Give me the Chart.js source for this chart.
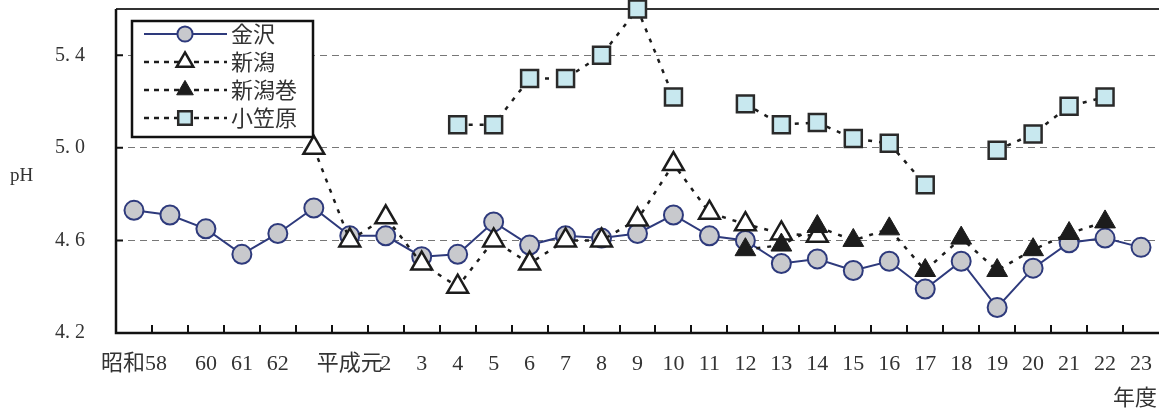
<!DOCTYPE html>
<html>
<head>
<meta charset="utf-8">
<script src="https://cdn.jsdelivr.net/npm/chart.js@4.4.0/dist/chart.umd.min.js"></script>
<style>
  html, body { margin: 0; padding: 0; background: #fff; }
</style>
</head>
<body>
<canvas id="ph" width="1159" height="412"></canvas>
<script>
// ----------- data -----------
const years = ['昭和58', '', '60', '61', '62', '', '平成元', '2', '3', '4', '5', '6', '7', '8', '9',
  '10', '11', '12', '13', '14', '15', '16', '17', '18', '19', '20', '21', '22', '23'];

const kanazawa = [4.73, 4.71, 4.65, 4.54, 4.63, 4.74, 4.62, 4.62, 4.53, 4.54, 4.68, 4.58, 4.62, 4.61, 4.63,
  4.71, 4.62, 4.60, 4.50, 4.52, 4.47, 4.51, 4.39, 4.51, 4.31, 4.48, 4.59, 4.61, 4.57];

const niigata = [null, null, null, null, null, 5.00, 4.60, 4.70, 4.50, 4.40, 4.60, 4.50, 4.60, 4.60, 4.69,
  4.93, 4.72, 4.67, 4.63, 4.62, null, null, null, null, null, null, null, null, null];

const niigataMaki = [null, null, null, null, null, null, null, null, null, null, null, null, null, null, null,
  null, null, 4.56, 4.58, 4.66, 4.60, 4.65, 4.47, 4.61, 4.47, 4.56, 4.63, 4.68, null];

const ogasawara = [null, null, null, null, null, null, null, null, null, 5.10, 5.10, 5.30, 5.30, 5.40, 5.60,
  5.22, null, 5.19, 5.10, 5.11, 5.04, 5.02, 4.84, null, 4.99, 5.06, 5.18, 5.22, null];

const yTicks = [4.2, 4.6, 5.0, 5.4];

// ----------- styles -----------
const navy = '#2e3a7c';
const ink = '#1c1c1c';
const textColor = '#333';
const serif = '"Liberation Serif", "Noto Sans CJK JP", serif';
const cjk = '"Noto Sans CJK JP", "Liberation Serif", sans-serif';

const datasets = [
  {
    label: '金沢', data: kanazawa, order: 4,
    borderColor: navy, borderWidth: 2,
    pointStyle: 'circle', pointRadius: 9.5, pointHoverRadius: 9.5,
    pointBackgroundColor: '#c8c9cd', pointBorderColor: navy, pointBorderWidth: 2
  },
  {
    label: '新潟', data: niigata, order: 3,
    borderColor: ink, borderWidth: 2.5, borderDash: [4, 7],
    pointStyle: 'triangle', pointRadius: 12, pointHoverRadius: 12,
    pointBackgroundColor: '#fff', pointBorderColor: ink, pointBorderWidth: 2.5
  },
  {
    label: '新潟巻', data: niigataMaki, order: 2,
    borderColor: ink, borderWidth: 2.5, borderDash: [4, 7],
    pointStyle: 'triangle', pointRadius: 12, pointHoverRadius: 12,
    pointBackgroundColor: ink, pointBorderColor: ink, pointBorderWidth: 1
  },
  {
    label: '小笠原', data: ogasawara, order: 1,
    borderColor: ink, borderWidth: 2.5, borderDash: [4, 7],
    pointStyle: 'rect', pointRadius: 12, pointHoverRadius: 12,
    pointBackgroundColor: '#c8e8ef', pointBorderColor: '#2a2a2a', pointBorderWidth: 2.5
  }
];
datasets.forEach(d => { d.tension = 0; d.clip = false; d.spanGaps = false; });

// frame, inner tick marks and the free texts
const framePlugin = {
  id: 'frame',
  beforeDatasetsDraw(chart) {
    const { ctx, chartArea: a, scales: { x, y } } = chart;
    ctx.save();
    ctx.setLineDash([]);
    ctx.strokeStyle = '#333';
    ctx.lineWidth = 2;
    ctx.beginPath();
    ctx.moveTo(a.left, a.top);
    ctx.lineTo(a.right, a.top);
    ctx.stroke();

    ctx.strokeStyle = '#111';
    ctx.lineWidth = 2.5;
    ctx.beginPath();
    ctx.moveTo(a.left, a.top);
    ctx.lineTo(a.left, a.bottom);
    ctx.lineTo(a.right, a.bottom);
    ctx.stroke();

    // x ticks between categories, pointing up
    const step = x.getPixelForValue(1) - x.getPixelForValue(0);
    ctx.lineWidth = 2;
    ctx.beginPath();
    for (let i = 1; i < years.length; i++) {
      const px = Math.round(x.getPixelForValue(i) - step / 2);
      ctx.moveTo(px, a.bottom);
      ctx.lineTo(px, a.bottom - 8);
    }
    // y ticks pointing right
    yTicks.slice(1).forEach(v => {
      const py = y.getPixelForValue(v);
      ctx.moveTo(a.left, py);
      ctx.lineTo(a.left + 7, py);
    });
    ctx.stroke();
    ctx.restore();
  },
  afterDraw(chart) {
    const { ctx } = chart;
    ctx.save();
    ctx.fillStyle = textColor;
    ctx.textBaseline = 'middle';
    ctx.font = '19px ' + serif;
    ctx.textAlign = 'left';
    ctx.fillText('pH', 10, 176);
    ctx.font = '22px ' + cjk;
    ctx.textAlign = 'right';
    ctx.fillText('年度', 1157, 397);
    ctx.restore();
  }
};

// boxed legend: line - marker - line, then the name
const legendPlugin = {
  id: 'boxLegend',
  afterDraw(chart) {
    const { ctx } = chart;
    const box = { left: 132, top: 21, width: 181, height: 116 };
    ctx.save();
    ctx.fillStyle = '#fff';
    ctx.fillRect(box.left, box.top, box.width, box.height);
    ctx.setLineDash([]);
    ctx.strokeStyle = '#111';
    ctx.lineWidth = 2.5;
    ctx.strokeRect(box.left, box.top, box.width, box.height);

    chart.data.datasets.forEach((d, i) => {
      const cy = 34 + i * 28;
      ctx.strokeStyle = d.borderColor;
      ctx.lineWidth = d.borderWidth;
      ctx.setLineDash(d.borderDash ? [5, 5] : []);
      ctx.beginPath();
      ctx.moveTo(144, cy);
      ctx.lineTo(227, cy);
      ctx.stroke();

      ctx.setLineDash([]);
      ctx.fillStyle = d.pointBackgroundColor;
      ctx.strokeStyle = d.pointBorderColor;
      ctx.lineWidth = d.pointBorderWidth;
      Chart.helpers.drawPoint(ctx, {
        pointStyle: d.pointStyle,
        radius: d.pointRadius * 0.8,
        rotation: 0,
        borderWidth: d.pointBorderWidth
      }, 185, cy);

      ctx.fillStyle = textColor;
      ctx.font = '22px ' + cjk;
      ctx.textAlign = 'left';
      ctx.textBaseline = 'middle';
      ctx.fillText(d.label, 231, cy);
    });
    ctx.restore();
  }
};

new Chart(document.getElementById('ph'), {
  type: 'line',
  data: { labels: years, datasets: datasets },
  options: {
    responsive: false,
    animation: false,
    layout: { autoPadding: false, padding: { top: 9, right: 0, bottom: 0, left: 0 } },
    plugins: {
      legend: { display: false },
      tooltip: { enabled: false }
    },
    scales: {
      x: {
        offset: true,
        grid: { display: false, drawTicks: false },
        border: { display: false },
        ticks: {
          autoSkip: false,
          maxRotation: 0,
          padding: 18,
          color: textColor,
          font: { family: serif, size: 22 }
        },
        afterFit: s => { s.height = 79; s.paddingLeft = 0; s.paddingRight = 0; }
      },
      y: {
        min: 4.2,
        max: 5.6,
        afterBuildTicks: s => { s.ticks = yTicks.map(v => ({ value: v })); },
        grid: {
          drawTicks: false,
          lineWidth: 1,
          color: c => (c.tick && c.tick.value === 4.2) ? 'rgba(0,0,0,0)' : '#777'
        },
        border: { display: false, dash: [7, 5] },
        ticks: {
          padding: 31,
          color: textColor,
          font: { family: serif, size: 20 },
          callback: v => v.toFixed(1).replace('.', '. ')
        },
        afterFit: s => { s.width = 116; s.paddingTop = 0; s.paddingBottom = 0; }
      }
    }
  },
  plugins: [framePlugin, legendPlugin]
});
</script>
</body>
</html>
